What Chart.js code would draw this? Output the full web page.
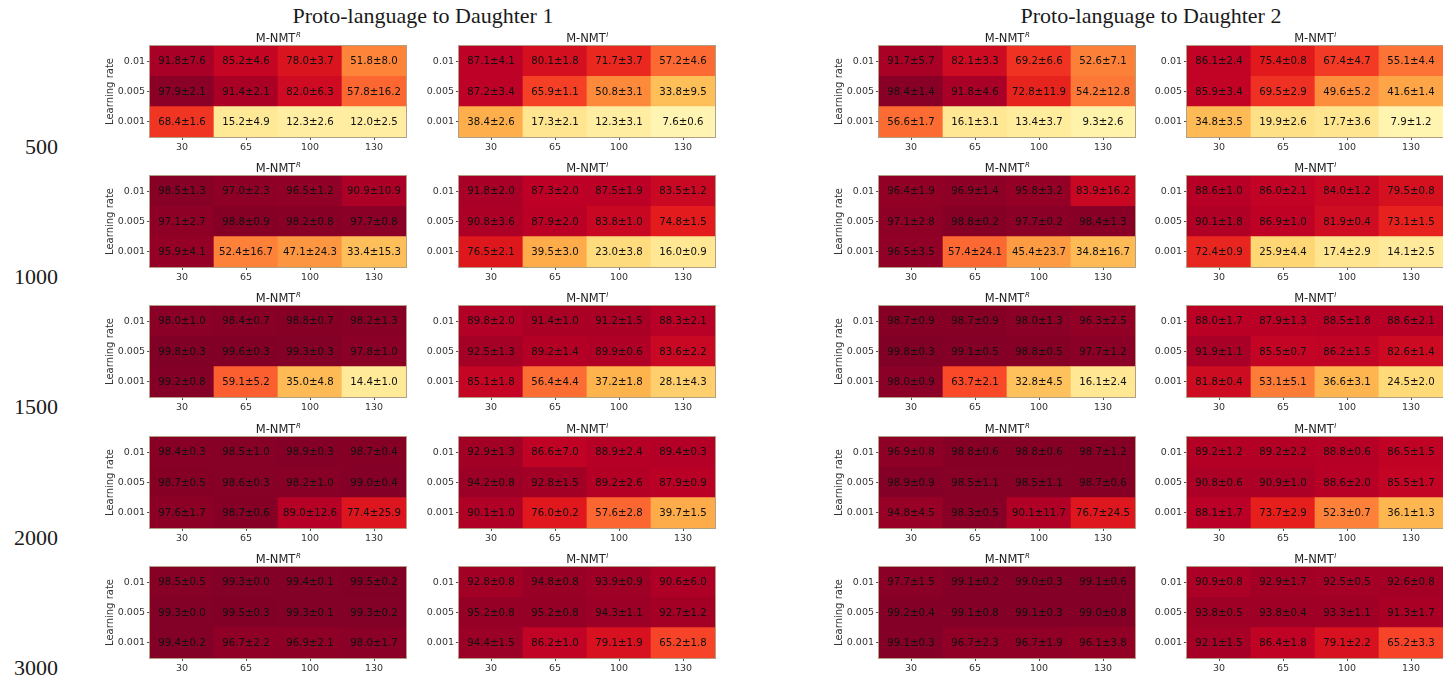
<!DOCTYPE html>
<html>
<head>
<meta charset="utf-8">
<script src="https://cdn.jsdelivr.net/npm/chart.js@4.4.1/dist/chart.umd.min.js"></script>
<style>
  html, body { margin:0; padding:0; background:#fff; }
  #wrap { position:relative; width:1443px; height:682px; overflow:hidden; }
  canvas { position:absolute; }
  .big { position:absolute; font-family:"Liberation Serif", serif; color:#1a1a1a; white-space:nowrap; }
</style>
</head>
<body>
<div id="wrap"></div>
<script>
// ---------------- DATA ----------------
const daughterTitles = ['Proto-language to Daughter 1', 'Proto-language to Daughter 2'];
const trainSizes = ['500', '1000', '1500', '2000', '3000'];
const hiddenSizes = ['30', '65', '100', '130'];
const learningRates = ['0.01', '0.005', '0.001']; // top to bottom
const modelSup = ['R', 'I'];

// each: [trainSize][learningRate row (0.01, 0.005, 0.001)][hidden size]
const meanD1R = [
  [[91.8,85.2,78.0,51.8],[97.9,91.4,82.0,57.8],[68.4,15.2,12.3,12.0]],
  [[98.5,97.0,96.5,90.9],[97.1,98.8,98.2,97.7],[95.9,52.4,47.1,33.4]],
  [[98.0,98.4,98.8,98.2],[99.8,99.6,99.3,97.8],[99.2,59.1,35.0,14.4]],
  [[98.4,98.5,98.9,98.7],[98.7,98.6,98.2,99.0],[97.6,98.7,89.0,77.4]],
  [[98.5,99.3,99.4,99.5],[99.3,99.5,99.3,99.3],[99.4,96.7,96.9,98.0]]
];
const stdD1R = [
  [[7.6,4.6,3.7,8.0],[2.1,2.1,6.3,16.2],[1.6,4.9,2.6,2.5]],
  [[1.3,2.3,1.2,10.9],[2.7,0.9,0.8,0.8],[4.1,16.7,24.3,15.3]],
  [[1.0,0.7,0.7,1.3],[0.3,0.3,0.3,1.0],[0.8,5.2,4.8,1.0]],
  [[0.3,1.0,0.3,0.4],[0.5,0.3,1.0,0.4],[1.7,0.6,12.6,25.9]],
  [[0.5,0.0,0.1,0.2],[0.0,0.3,0.1,0.2],[0.2,2.2,2.1,1.7]]
];
const meanD1I = [
  [[87.1,80.1,71.7,57.2],[87.2,65.9,50.8,33.8],[38.4,17.3,12.3,7.6]],
  [[91.8,87.3,87.5,83.5],[90.8,87.9,83.8,74.8],[76.5,39.5,23.0,16.0]],
  [[89.8,91.4,91.2,88.3],[92.5,89.2,89.9,83.6],[85.1,56.4,37.2,28.1]],
  [[92.9,86.6,88.9,89.4],[94.2,92.8,89.2,87.9],[90.1,76.0,57.6,39.7]],
  [[92.8,94.8,93.9,90.6],[95.2,95.2,94.3,92.7],[94.4,86.2,79.1,65.2]]
];
const stdD1I = [
  [[4.1,1.8,3.7,4.6],[3.4,1.1,3.1,9.5],[2.6,2.1,3.1,0.6]],
  [[2.0,2.0,1.9,1.2],[3.6,2.0,1.0,1.5],[2.1,3.0,3.8,0.9]],
  [[2.0,1.0,1.5,2.1],[1.3,1.4,0.6,2.2],[1.8,4.4,1.8,4.3]],
  [[1.3,7.0,2.4,0.3],[0.8,1.5,2.6,0.9],[1.0,0.2,2.8,1.5]],
  [[0.8,0.8,0.9,6.0],[0.8,0.8,1.1,1.2],[1.5,1.0,1.9,1.8]]
];
const meanD2R = [
  [[91.7,82.1,69.2,52.6],[98.4,91.8,72.8,54.2],[56.6,16.1,13.4,9.3]],
  [[96.4,96.9,95.8,83.9],[97.1,98.8,97.7,98.4],[96.5,57.4,45.4,34.8]],
  [[98.7,98.7,98.0,96.3],[99.8,99.1,98.8,97.7],[98.0,63.7,32.8,16.1]],
  [[96.9,98.8,98.8,98.7],[98.9,98.5,98.5,98.7],[94.8,98.3,90.1,76.7]],
  [[97.7,99.1,99.0,99.1],[99.2,99.1,99.1,99.0],[99.1,96.7,96.7,96.1]]
];
const stdD2R = [
  [[5.7,3.3,6.6,7.1],[1.4,4.6,11.9,12.8],[1.7,3.1,3.7,2.6]],
  [[1.9,1.4,3.2,16.2],[2.8,0.2,0.2,1.3],[3.5,24.1,23.7,16.7]],
  [[0.9,0.9,1.3,2.5],[0.3,0.5,0.5,1.2],[0.9,2.1,4.5,2.4]],
  [[0.8,0.6,0.6,1.2],[0.9,1.1,1.1,0.6],[4.5,0.5,11.7,24.5]],
  [[1.5,0.2,0.3,0.6],[0.4,0.8,0.3,0.8],[0.3,2.3,1.9,3.8]]
];
const meanD2I = [
  [[86.1,75.4,67.4,55.1],[85.9,69.5,49.6,41.6],[34.8,19.9,17.7,7.9]],
  [[88.6,86.0,84.0,79.5],[90.1,86.9,81.9,73.1],[72.4,25.9,17.4,14.1]],
  [[88.0,87.9,88.5,88.6],[91.9,85.5,86.2,82.6],[81.8,53.1,36.6,24.5]],
  [[89.2,89.2,88.8,86.5],[90.8,90.9,88.6,85.5],[88.1,73.7,52.3,36.1]],
  [[90.9,92.9,92.5,92.6],[93.8,93.8,93.3,91.3],[92.1,86.4,79.1,65.2]]
];
const stdD2I = [
  [[2.4,0.8,4.7,4.4],[3.4,2.9,5.2,1.4],[3.5,2.6,3.6,1.2]],
  [[1.0,2.1,1.2,0.8],[1.8,1.0,0.4,1.5],[0.9,4.4,2.9,2.5]],
  [[1.7,1.3,1.8,2.1],[1.1,0.7,1.5,1.4],[0.4,5.1,3.1,2.0]],
  [[1.2,2.2,0.6,1.5],[0.6,1.0,2.0,1.7],[1.7,2.9,0.7,1.3]],
  [[0.8,1.7,0.5,0.8],[0.5,0.4,1.1,1.7],[1.5,1.8,2.2,3.3]]
];

// ---------------- LAYOUT ----------------
const panelMeans = [meanD1R, meanD1I, meanD2R, meanD2I];
const panelStds  = [stdD1R, stdD1I, stdD2R, stdD2I];
const panelSup   = [modelSup[0], modelSup[1], modelSup[0], modelSup[1]];
const plotLeft = [150, 459, 879, 1187];
const plotTop  = [46, 176, 306, 437, 567];
const PW = 256, PH = 91;
const LEFT_SPACE = 62, TOP_SPACE = 22, BOTTOM_SPACE = 20, RIGHT_SPACE = 4;

// YlOrRd colormap (vmin 0, vmax 100)
const ylorrd = ['#ffffcc','#ffeda0','#fed976','#feb24c','#fd8d3c','#fc4e2a','#e31a1c','#bd0026','#800026'];
function hex2rgb(h){ return [parseInt(h.slice(1,3),16), parseInt(h.slice(3,5),16), parseInt(h.slice(5,7),16)]; }
const stops = ylorrd.map(hex2rgb);
function cmap(v){
  let t = Math.max(0, Math.min(1, v/100)) * (stops.length - 1);
  let i = Math.min(stops.length - 2, Math.floor(t));
  let f = t - i;
  const a = stops[i], b = stops[i+1];
  const c = a.map((x,k) => Math.round(x + (b[k]-x)*f));
  return `rgb(${c[0]},${c[1]},${c[2]})`;
}

const wrap = document.getElementById('wrap');

// big titles
[[daughterTitles[0], 423], [daughterTitles[1], 1151]].forEach(([t, cx]) => {
  const d = document.createElement('div');
  d.className = 'big';
  d.style.fontSize = '22px';
  d.style.left = (cx - 200) + 'px';
  d.style.width = '400px';
  d.style.textAlign = 'center';
  d.style.top = '3px';
  d.textContent = t;
  wrap.appendChild(d);
});
// training size labels
trainSizes.forEach((s, r) => {
  const d = document.createElement('div');
  d.className = 'big';
  d.style.fontSize = '22px';
  d.style.left = '0px';
  d.style.width = '58px';
  d.style.textAlign = 'right';
  d.style.top = (plotTop[r] + PH - 3) + 'px';
  d.textContent = s;
  wrap.appendChild(d);
});

const panelTitle = {
  id: 'panelTitle',
  afterDraw(chart, args, opts) {
    const ctx = chart.ctx, a = chart.chartArea;
    ctx.save();
    const base = 'M-NMT';
    ctx.font = '11.5px "DejaVu Sans"';
    const w1 = ctx.measureText(base).width;
    ctx.font = 'italic 7px "DejaVu Sans"';
    const w2 = ctx.measureText(opts.sup).width;
    const x0 = (a.left + a.right)/2 - (w1 + w2)/2;
    const y = a.top - 4.5;
    ctx.fillStyle = '#222';
    ctx.textBaseline = 'alphabetic';
    ctx.textAlign = 'left';
    ctx.font = '11.5px "DejaVu Sans"';
    ctx.fillText(base, x0, y);
    ctx.font = 'italic 7px "DejaVu Sans"';
    ctx.fillText(opts.sup, x0 + w1 + 0.5, y - 4.5);
    ctx.restore();
  }
};
const cellLabels = {
  id: 'cellLabels',
  afterDatasetsDraw(chart, args, opts) {
    const ctx = chart.ctx;
    ctx.save();
    ctx.font = '10.2px "DejaVu Sans"';
    ctx.fillStyle = '#111';
    ctx.textAlign = 'center';
    ctx.textBaseline = 'middle';
    chart.data.datasets.forEach((ds, di) => {
      const meta = chart.getDatasetMeta(di);
      meta.data.forEach((el, j) => {
        const txt = ds.means[j].toFixed(1) + '±' + ds.stds[j].toFixed(1);
        ctx.fillText(txt, el.x, (el.y + el.base)/2 + 0.5);
      });
    });
    // frame
    const a = chart.chartArea;
    ctx.strokeStyle = 'rgba(170,150,120,0.9)';
    ctx.lineWidth = 1;
    ctx.strokeRect(Math.round(a.left) - 0.5, Math.round(a.top) - 0.5, Math.round(a.right - a.left) + 1, Math.round(a.bottom - a.top) + 1);
    ctx.restore();
  }
};

for (let r = 0; r < trainSizes.length; r++) {
  for (let c = 0; c < 4; c++) {
    const cv = document.createElement('canvas');
    const W = LEFT_SPACE + PW + RIGHT_SPACE, H = TOP_SPACE + PH + BOTTOM_SPACE;
    cv.width = W; cv.height = H;
    cv.style.width = W + 'px'; cv.style.height = H + 'px';
    cv.style.left = (plotLeft[c] - LEFT_SPACE) + 'px';
    cv.style.top = (plotTop[r] - TOP_SPACE) + 'px';
    wrap.appendChild(cv);

    const means = panelMeans[c][r], stds = panelStds[c][r];
    // stack from bottom: lr 0.001, 0.005, 0.01
    const datasets = [2, 1, 0].map(row => ({
      label: learningRates[row],
      data: hiddenSizes.map(() => 1),
      means: means[row],
      stds: stds[row],
      backgroundColor: means[row].map(cmap),
      borderWidth: 0,
      barPercentage: 1,
      categoryPercentage: 1
    }));

    new Chart(cv, {
      type: 'bar',
      data: { labels: hiddenSizes, datasets },
      plugins: [panelTitle, cellLabels],
      options: {
        responsive: false,
        animation: false,
        devicePixelRatio: 1,
        events: [],
        layout: { padding: { top: TOP_SPACE, right: RIGHT_SPACE, left: 0, bottom: 0 } },
        plugins: {
          legend: { display: false },
          tooltip: { enabled: false },
          title: { display: false },
          panelTitle: { sup: panelSup[c] }
        },
        scales: {
          x: {
            stacked: true,
            offset: true,
            grid: { offset: false, drawOnChartArea: false, drawTicks: true, tickLength: 3, color: '#555' },
            border: { display: false },
            ticks: { color: '#333', font: { family: 'DejaVu Sans', size: 9.5 }, padding: 2, maxRotation: 0, autoSkip: false },
            afterFit: s => { s.height = BOTTOM_SPACE; }
          },
          y: {
            type: 'linear',
            stacked: true,
            min: 0, max: 3,
            afterBuildTicks: s => { s.ticks = [{value: 0.5}, {value: 1.5}, {value: 2.5}]; },
            grid: { drawOnChartArea: false, drawTicks: true, tickLength: 3, color: '#555' },
            border: { display: false },
            ticks: {
              color: '#333', font: { family: 'DejaVu Sans', size: 9.5 }, padding: 2,
              callback: v => learningRates[2 - Math.floor(v)]
            },
            title: {
              display: c === 0 || c === 2,
              text: 'Learning rate',
              color: '#333',
              font: { family: 'DejaVu Sans', size: 10 },
              padding: { top: 16, bottom: 0 }
            },
            afterFit: s => { s.width = LEFT_SPACE; }
          }
        }
      }
    });
  }
}
</script>
</body>
</html>
